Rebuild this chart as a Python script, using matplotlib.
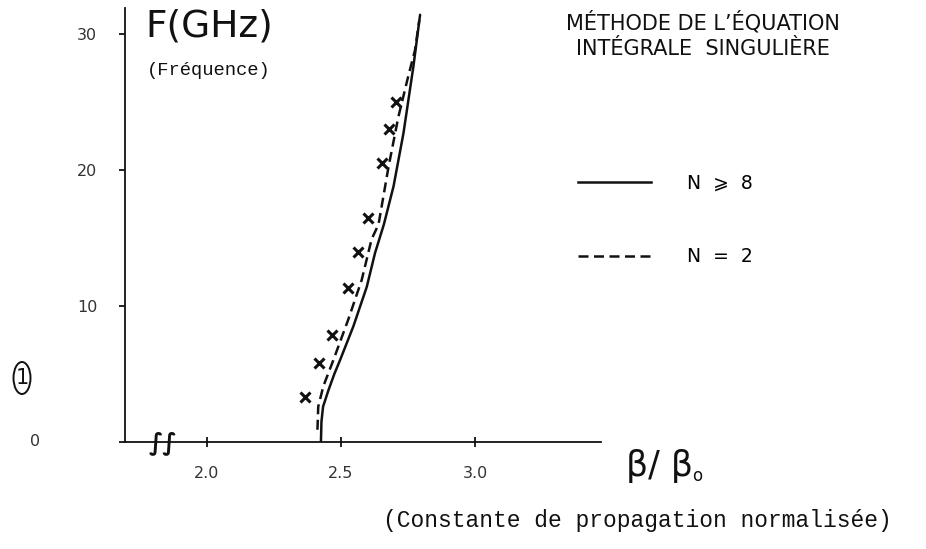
import matplotlib
matplotlib.use("Agg")
import matplotlib.pyplot as plt
from matplotlib.lines import Line2D
from matplotlib.patches import Ellipse
from matplotlib.transforms import blended_transform_factory

# Normalised propagation constant beta/beta0 versus frequency F (GHz)
freq_full = [0.0, 1.5, 2.6, 3.8, 5.0, 6.0, 8.5, 11.4, 13.9, 16.0, 18.8, 22.7, 27.6, 31.4]
beta_full = [2.425, 2.427, 2.433, 2.453, 2.475, 2.496, 2.546, 2.596, 2.627, 2.660, 2.696, 2.733, 2.770, 2.795]

freq_n2 = [0.9, 2.6, 4.1, 6.0, 9.0, 11.9, 14.9, 16.0, 20.2, 23.9, 26.9, 28.8, 31.0]
beta_n2 = [2.412, 2.415, 2.434, 2.471, 2.527, 2.577, 2.614, 2.640, 2.677, 2.714, 2.751, 2.776, 2.792]

freq_meas = [3.3, 5.8, 7.9, 11.3, 14.0, 16.5, 20.5, 23.0, 25.0]
beta_meas = [2.366, 2.419, 2.465, 2.527, 2.565, 2.602, 2.652, 2.679, 2.705]

x_ticks = [2.0, 2.5, 3.0]
x_tick_labels = ["2.0", "2.5", "3.0"]
y_ticks = [0, 10, 20, 30]
y_tick_labels = ["", "10", "20", "30"]

W, H = 926, 549
fig = plt.figure(figsize=(W / 100, H / 100), dpi=100)
fig.patch.set_facecolor("white")

def fx(px):
    return px / W

def fy(py):
    return 1 - py / H

ax = fig.add_axes([fx(125), fy(442), (601 - 125) / W, (442 - 8) / H])
ax.set_xlim(1.694, 3.47)
ax.set_ylim(0, 31.9)
for s in ("top", "right"):
    ax.spines[s].set_visible(False)
for s in ("left", "bottom"):
    ax.spines[s].set_linewidth(1.3)
    ax.spines[s].set_color("#111111")

ink = "#111111"
ax.plot(beta_full, freq_full, color=ink, lw=1.8, solid_capstyle="round")
ax.plot(beta_n2, freq_n2, color=ink, lw=1.8, dashes=(4, 2.2))
ax.plot(beta_meas, freq_meas, ls="none", marker="x", ms=6.5, mew=2.2, color=ink)

ax.set_xticks(x_ticks)
ax.set_xticklabels(x_tick_labels)
ax.set_yticks(y_ticks)
ax.set_yticklabels(y_tick_labels)
ax.tick_params(axis="x", direction="inout", length=7, width=1.3, pad=14,
               labelsize=11.5, labelcolor="#333333", color=ink)
ax.tick_params(axis="y", direction="out", length=4, width=1.3, pad=16,
               labelsize=11.5, labelcolor="#333333", color=ink)

# zero of the frequency axis sits far to the left
ax.text(fx(35), 0, "0", transform=blended_transform_factory(fig.transFigure, ax.transData),
        ha="center", va="center", fontsize=11.5, color="#333333")

# axis break marks near the origin
ax.text(fx(163), fy(443), "\u222b\u222b", transform=fig.transFigure, ha="center",
        va="center", fontsize=17, color=ink, fontweight="bold")

# axis titles
fig.text(fx(145), fy(27), "F(GHz)", ha="left", va="center", fontsize=27, color=ink)
fig.text(fx(147), fy(70), "(Fréquence)", ha="left", va="center", fontsize=13.5,
         family="Liberation Mono", color=ink)
fig.text(fx(626), fy(466), "β/ β", ha="left", va="center", fontsize=25, color=ink)
fig.text(fx(692), fy(476), "o", ha="left", va="center", fontsize=12, color=ink)
fig.text(fx(383), fy(520), "(Constante de propagation normalisée)", ha="left",
         va="center", fontsize=16.5, family="Liberation Mono", color=ink)

fig.text(fx(703), fy(35), "MÉTHODE DE L’ÉQUATION\nINTÉGRALE  SINGULIÈRE",
         ha="center", va="center", fontsize=15, color=ink, linespacing=1.35)

# figure number
fig.patches.append(Ellipse((fx(22), fy(378)), 17 / W, 32 / H, transform=fig.transFigure,
                           fill=False, lw=1.4, ec=ink))
fig.text(fx(22), fy(378), "1", ha="center", va="center", fontsize=15, color=ink)

handles = [Line2D([], [], color=ink, lw=1.8),
           Line2D([], [], color=ink, lw=1.8, dashes=(4, 2.2))]
leg = fig.legend(handles, ["N  \u2a7e  8", "N  =  2"], loc="upper left",
                 bbox_to_anchor=(fx(561), fy(157)), frameon=False,
                 handlelength=3.9, handletextpad=1.9, labelspacing=2.9,
                 prop={"family": ["DejaVu Sans", "Noto Sans CJK JP"], "size": 13.5})

fig.savefig("out.png", dpi=100, facecolor="white")
